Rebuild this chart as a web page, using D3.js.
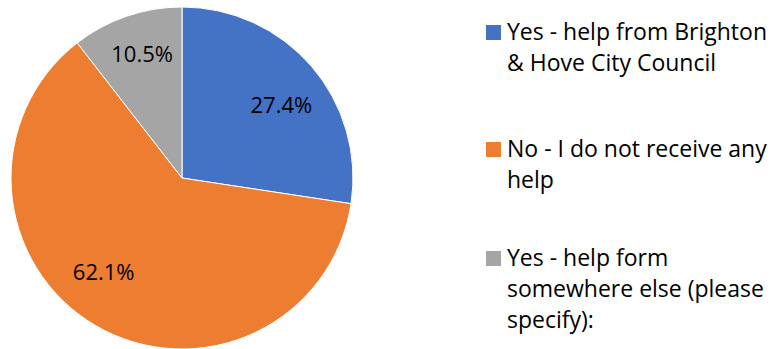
<!DOCTYPE html>
<html>
<head>
<meta charset="utf-8">
<script src="https://cdn.jsdelivr.net/npm/d3@7"></script>
<style>
  html, body { margin: 0; padding: 0; background: #ffffff; }
  svg { display: block; font-family: "Open Sans", sans-serif; }
</style>
</head>
<body>
<svg id="chart" width="774" height="349"></svg>
<script>
// Survey answers and their shares (percent)
const categories = [
  "Yes - help from Brighton & Hove City Council",
  "No - I do not receive any help",
  "Yes - help form somewhere else (please specify):"
];
const values = [27.4, 62.1, 10.5];
const colors = ["#4472C4", "#ED7D31", "#A5A5A5"];
// Legend text broken into the lines it wraps to
const legendLines = [
  ["Yes - help from Brighton", "& Hove City Council"],
  ["No - I do not receive any", "help"],
  ["Yes - help form", "somewhere else (please", "specify):"]
];
// Small offsets applied to the data labels after centroid placement
const labelNudge = [[6, 7], [-16, -12], [0, -7]];

const svg = d3.select("#chart");
const cx = 182, cy = 178, radius = 171;

const pie = d3.pie().sort(null).value(d => d)(values);
const arc = d3.arc().innerRadius(0).outerRadius(radius);
const labelArc = d3.arc().innerRadius(radius * 0.72).outerRadius(radius * 0.72);

const g = svg.append("g").attr("transform", `translate(${cx},${cy})`);

g.selectAll("path.slice")
  .data(pie)
  .join("path")
  .attr("class", "slice")
  .attr("d", arc)
  .attr("fill", (d, i) => colors[i])
  .attr("stroke", "#ffffff")
  .attr("stroke-width", 1);

g.selectAll("text.value")
  .data(pie)
  .join("text")
  .attr("class", "value")
  .attr("transform", (d, i) => {
    const [x, y] = labelArc.centroid(d);
    return `translate(${x + labelNudge[i][0]},${y + labelNudge[i][1]})`;
  })
  .attr("text-anchor", "middle")
  .attr("dy", "0.36em")
  .attr("font-size", 22)
  .attr("fill", "#000000")
  .text(d => d3.format(".1f")(d.data) + "%");

// Legend
const legendX = 486;
const legendTops = [25, 142, 251];
const lineHeight = 31;

const items = svg.selectAll("g.legend")
  .data(categories)
  .join("g")
  .attr("class", "legend")
  .attr("transform", (d, i) => `translate(${legendX},${legendTops[i]})`);

items.append("rect")
  .attr("width", 15)
  .attr("height", 15)
  .attr("fill", (d, i) => colors[i]);

items.append("text")
  .attr("font-size", 23)
  .attr("fill", "#000000")
  .selectAll("tspan")
  .data((d, i) => legendLines[i])
  .join("tspan")
  .attr("x", 21)
  .attr("y", (d, j) => 15 + j * lineHeight)
  .text(d => d);
</script>
</body>
</html>
